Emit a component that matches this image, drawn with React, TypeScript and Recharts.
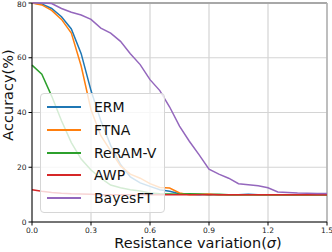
import React from 'react';
import {
    LineChart,
    Line,
    XAxis,
    YAxis,
    CartesianGrid,
    ReferenceLine,
} from 'recharts';

const sigma = [0, 0.05, 0.1, 0.15, 0.2, 0.25, 0.3, 0.35, 0.4, 0.45, 0.5, 0.55, 0.6, 0.65, 0.7, 0.75,
    0.8, 0.85, 0.9, 0.95, 1.0, 1.05, 1.1, 1.15, 1.2, 1.25, 1.3, 1.35, 1.4, 1.45, 1.5];

const erm = [80, 79.6, 78, 75, 70.5, 61.5, 48, 37, 28, 21, 16.5, 14.3, 13, 11.8, 11.2, 10.3,
    10.1, 10, 10.1, 10, 10, 10, 10.1, 10, 10, 10, 10, 10, 10, 10, 10];
const ftna = [80, 79.3, 77.3, 74, 69, 57, 41, 31.5, 26, 20.5, 17.5, 16, 14, 12.6, 12.4, 10.6,
    10, 10.1, 10.2, 10, 10, 10, 10, 10, 10, 10, 10, 10, 10, 10, 10];
const reramV = [57.3, 54, 46, 37, 29, 23, 19, 16, 13.5, 12.5, 11.8, 11.3, 10.6, 10.3, 10.2, 10.1,
    10.3, 10.2, 10, 10.1, 10, 10, 10, 10, 10, 10, 10, 10, 10, 10, 10];
const awp = [11.8, 11.2, 10.8, 10.5, 10.3, 10.2, 10.1, 10, 10, 10, 10, 10, 10, 10, 10, 10,
    10, 10, 10, 10, 10, 10, 10, 10, 10, 10, 10, 10, 10, 10, 10];
const bayesFT = [80, 80, 79.8, 78, 76.6, 75.6, 74, 70.8, 69, 66, 61.5, 57.5, 52, 48, 42, 35,
    29.5, 24.5, 19.3, 17.5, 16, 14, 13.6, 13.2, 12.5, 11, 10.8, 10.6, 10.5, 10.4, 10.4];

const xTicks = [0, 0.3, 0.6, 0.9, 1.2, 1.5];
const yTicks = [0, 20, 40, 60, 80];

const series = [
    {key: 'ERM', values: erm, color: '#1f77b4'},
    {key: 'FTNA', values: ftna, color: '#ff7f0e'},
    {key: 'ReRAM-V', values: reramV, color: '#2ca02c'},
    {key: 'AWP', values: awp, color: '#d62728'},
    {key: 'BayesFT', values: bayesFT, color: '#9467bd'},
];

const data = sigma.map((s, i) => {
    const row: Record<string, number> = {sigma: s};
    series.forEach(sr => {
        row[sr.key] = sr.values[i];
    });
    return row;
});

const FONT = '"DejaVu Sans", sans-serif';

// legend drawn as an html box over the plot, like matplotlib's framed legend
const LegendBox = () => (
    <div style={{
        position: 'absolute',
        left: 40,
        top: 93,
        background: 'rgba(255,255,255,0.8)',
        border: '1px solid #d6d6d6',
        borderRadius: 4,
        boxSizing: 'border-box',
        width: 125,
        height: 120,
        paddingTop: 2,
        fontFamily: FONT,
        fontSize: 14,
    }}>
        {series.map(sr => (
            <div key={sr.key} style={{display: 'flex', alignItems: 'center', height: 22.7}}>
                <div style={{width: 34, height: 2, background: sr.color, marginLeft: 6, marginRight: 13}}/>
                <span style={{color: '#111'}}>{sr.key}</span>
            </div>
        ))}
    </div>
);

const XLabel = () => (
    <text x={198} y={248} textAnchor="middle" fontSize={14.5} fontFamily={FONT} fill="#111">
        Resistance variation(<tspan fontStyle="italic">σ</tspan>)
    </text>
);

const YLabel = () => (
    <text x={13} y={95} transform="rotate(-90 13 95)" textAnchor="middle" fontSize={14.5}
          fontFamily={FONT} fill="#111">
        Accuracy(%)
    </text>
);

const App = () => {
    return (
        <div style={{position: 'absolute', left: 0, top: 0, width: 332, height: 252, background: '#fff'}}>
            <LineChart width={332} height={252} data={data}
                       margin={{top: 3, right: 5, bottom: 0, left: 0}}>
                <CartesianGrid stroke="#d4d4d4" strokeWidth={1.2}/>
                <ReferenceLine y={80} stroke="#a8a8a8" strokeWidth={2}/>
                <ReferenceLine x={1.5} stroke="#b0b0b0" strokeWidth={1.5}/>
                <XAxis dataKey="sigma" type="number" domain={[0, 1.5]} ticks={xTicks}
                       tickFormatter={(v: number) => v.toFixed(1)}
                       height={30} tickSize={3.5} stroke="#000" axisLine={{stroke: '#000'}}
                       tick={{fontSize: 7.5, fontFamily: FONT, fill: '#222'}}
                       label={{content: () => <XLabel/>}}/>
                <YAxis domain={[0, 80]} ticks={yTicks} width={32} tickSize={3.5}
                       stroke="#000" axisLine={{stroke: '#000'}}
                       tick={{fontSize: 7.5, fontFamily: FONT, fill: '#222'}}
                       label={{content: () => <YLabel/>}}/>
                {series.map(sr => (
                    <Line key={sr.key} dataKey={sr.key} stroke={sr.color} strokeWidth={1.5}
                          dot={false} type="linear" isAnimationActive={false}/>
                ))}
            </LineChart>
            <LegendBox/>
        </div>
    );
};

export default App;
